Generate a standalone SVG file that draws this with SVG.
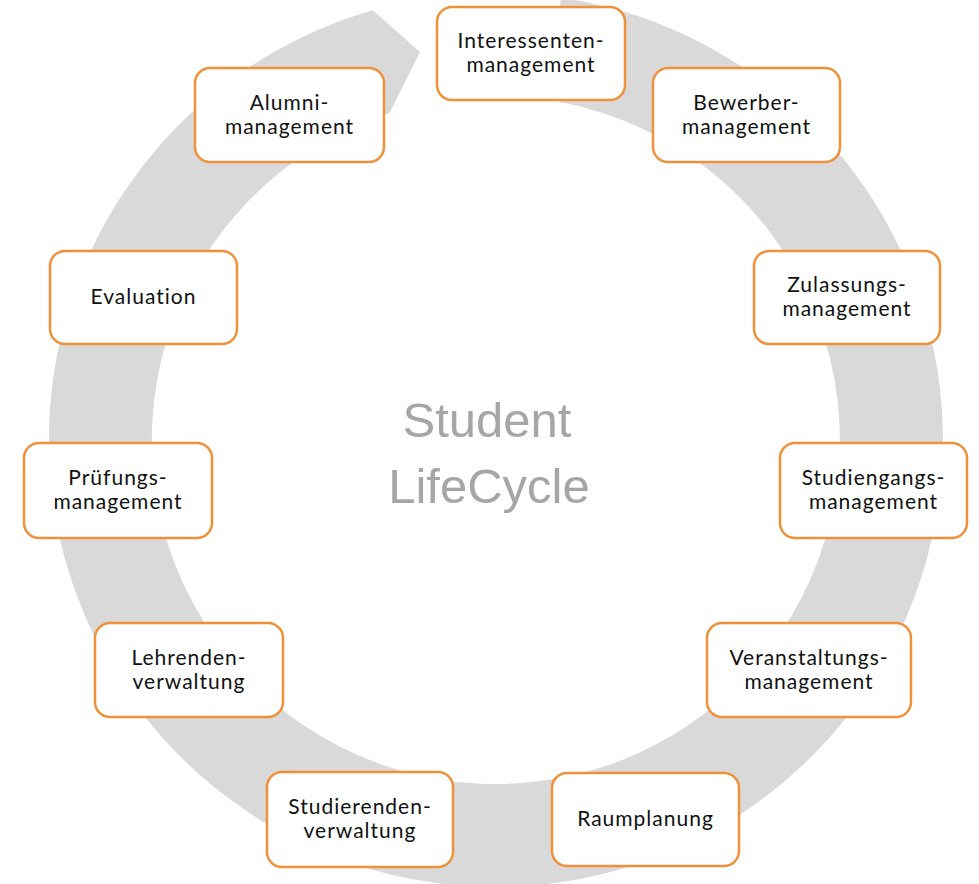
<svg xmlns="http://www.w3.org/2000/svg" width="979" height="884" viewBox="0 0 979 884">
<style>
.box{fill:#ffffff;stroke:#F0913A;stroke-width:2.5}
.lbl{font-family:Lato,"Liberation Sans",sans-serif;font-size:21px;fill:#111111;text-anchor:middle;letter-spacing:1px}
.center{font-family:"Liberation Sans",Arial,sans-serif;font-size:49px;fill:#A6A6A6;text-anchor:middle}
</style>
<rect width="979" height="884" fill="#ffffff"/>
<g id="connectors">
<path id="cycle-arrow" fill="#D9D9D9" d="M560.5,-2.3 A447,447 0 1 1 372.8,10.3 L420,52 L389.7,112.8 A344,344 0 1 0 558.7,101.8 Z"/>
</g>
<text class="center" x="487" y="437">Student</text>
<text class="center" x="489" y="503">LifeCycle</text>
<g id="interessenten"><rect class="box" x="437" y="7" width="188" height="93" rx="15"/><text class="lbl" x="531" y="48">Interessenten-</text><text class="lbl" x="531" y="72">management</text></g>
<g id="bewerber"><rect class="box" x="653" y="68" width="187" height="94" rx="15"/><text class="lbl" x="746.5" y="110">Bewerber-</text><text class="lbl" x="746.5" y="134">management</text></g>
<g id="zulassungs"><rect class="box" x="754" y="251" width="186" height="93" rx="15"/><text class="lbl" x="847" y="292">Zulassungs-</text><text class="lbl" x="847" y="316">management</text></g>
<g id="studiengangs"><rect class="box" x="780" y="443" width="187" height="95" rx="15"/><text class="lbl" x="873.5" y="485">Studiengangs-</text><text class="lbl" x="873.5" y="509">management</text></g>
<g id="veranstaltungs"><rect class="box" x="707" y="623" width="204" height="94" rx="15"/><text class="lbl" x="809" y="665">Veranstaltungs-</text><text class="lbl" x="809" y="689">management</text></g>
<g id="raumplanung"><rect class="box" x="552" y="773" width="187" height="93" rx="15"/><text class="lbl" x="645.5" y="826">Raumplanung</text></g>
<g id="studierenden"><rect class="box" x="267" y="772" width="186" height="95" rx="15"/><text class="lbl" x="360" y="814">Studierenden-</text><text class="lbl" x="360" y="838">verwaltung</text></g>
<g id="lehrenden"><rect class="box" x="95" y="623" width="188" height="94" rx="15"/><text class="lbl" x="189" y="665">Lehrenden-</text><text class="lbl" x="189" y="689">verwaltung</text></g>
<g id="pruefungs"><rect class="box" x="24" y="443" width="188" height="95" rx="15"/><text class="lbl" x="118" y="485">Prüfungs-</text><text class="lbl" x="118" y="509">management</text></g>
<g id="evaluation"><rect class="box" x="50" y="251" width="187" height="93" rx="15"/><text class="lbl" x="143.5" y="304">Evaluation</text></g>
<g id="alumni"><rect class="box" x="195" y="68" width="189" height="94" rx="15"/><text class="lbl" x="289.5" y="110">Alumni-</text><text class="lbl" x="289.5" y="134">management</text></g>
</svg>
